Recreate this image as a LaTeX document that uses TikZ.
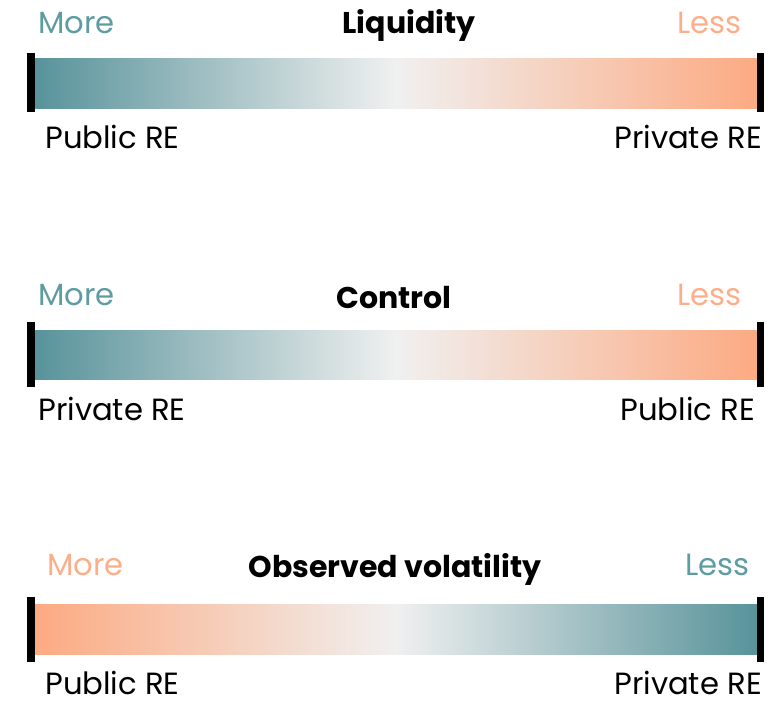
\documentclass[tikz,border=0pt]{standalone}
\usepackage{fontspec}
\setmainfont{Poppins}
\definecolor{teal1}{HTML}{58939A}
\definecolor{peach1}{HTML}{FCAA82}
\definecolor{mid1}{HTML}{F0F0F0}
\definecolor{tealtxt}{HTML}{5E9CA2}
\definecolor{peachtxt}{HTML}{FCAE8A}
\begin{document}
\begin{tikzpicture}[x=0.75pt,y=-0.75pt,
  lbl/.style={inner sep=0pt,text depth=0pt,font=\fontsize{23}{27}\selectfont},
  ttl/.style={inner sep=0pt,font=\fontsize{22.5}{26}\selectfont\bfseries},
  endbar/.style={fill=black,draw=none}]
\useasboundingbox (0,0) rectangle (775,701);
% bar 1
\shade[left color=teal1,right color=peach1,middle color=mid1] (35,58) rectangle (757,108);
\fill[endbar] (27,53) rectangle (35,112);
\fill[endbar] (757,53) rectangle (764,112);
\node[lbl,anchor=base west,text=tealtxt] (m1) at (38,33) {More};
\node[ttl,anchor=base] (t1) at (409,33) {Liquidity};
\node[lbl,anchor=base east,text=peachtxt] (l1) at (742,33) {Less};
\node[lbl,anchor=base west] (a1) at (45,148) {Public RE};
\node[lbl,anchor=base east] (b1) at (762,148) {Private RE};
% bar 2
\shade[left color=teal1,right color=peach1,middle color=mid1] (35,330) rectangle (757,379);
\fill[endbar] (27,322) rectangle (35,387);
\fill[endbar] (757,322) rectangle (764,387);
\node[lbl,anchor=base west,text=tealtxt] (m2) at (38,305) {More};
\node[ttl,anchor=base] (t2) at (394,308) {Control};
\node[lbl,anchor=base east,text=peachtxt] (l2) at (742,305) {Less};
\node[lbl,anchor=base west] (a2) at (38,420) {Private RE};
\node[lbl,anchor=base east] (b2) at (755,420) {Public RE};
% bar 3
\shade[left color=peach1,right color=teal1,middle color=mid1] (35,604) rectangle (757,654);
\fill[endbar] (27,597) rectangle (35,662);
\fill[endbar] (757,597) rectangle (764,662);
\node[lbl,anchor=base west,text=peachtxt] (m3) at (47,575) {More};
\node[ttl,anchor=base] (t3) at (395,577) {Observed volatility};
\node[lbl,anchor=base east,text=tealtxt] (l3) at (750,575) {Less};
\node[lbl,anchor=base west] (a3) at (45,694) {Public RE};
\node[lbl,anchor=base east] (b3) at (762,694) {Private RE};
\end{tikzpicture}
\end{document}
